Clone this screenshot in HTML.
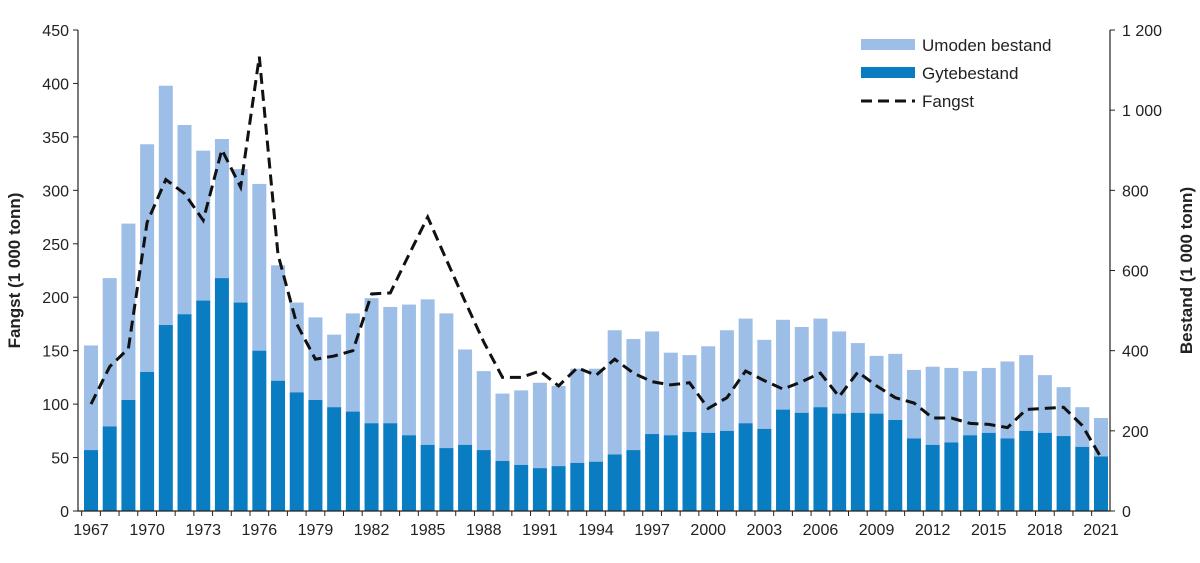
<!DOCTYPE html>
<html><head><meta charset="utf-8"><style>
html,body{margin:0;padding:0;background:#fff;}
svg text{font-family:"Liberation Sans",sans-serif;fill:#222;}
</style></head><body>
<svg id="chart" width="1200" height="558" viewBox="0 0 1200 558" xmlns="http://www.w3.org/2000/svg"></svg>
<script>
const years = [];
for (let y = 1967; y <= 2021; y++) years.push(y);
const gytebestand = [152,211,277,347,464,491,525,581,520,400,325,296,277,259,248,219,219,189,165,157,165,152,125,115,107,112,120,123,141,152,192,189,197,195,200,219,205,253,245,259,243,245,243,227,181,165,171,189,195,181,200,195,187,160,136];
const umoden = [261,370,440,568,597,472,374,347,333,416,288,224,206,181,245,312,290,326,363,336,238,197,168,186,213,200,235,232,310,277,256,206,192,216,251,261,222,224,214,221,205,174,144,165,171,195,186,160,162,192,189,144,122,99,96];
const fangst = [100,135,152,270,310,297,272,338,303,425,240,175,142,145,150,203,204,240,275,235,196,158,125,125,131,117,134,127,142,129,121,118,120,96,106,131,122,114,121,129,107,130,117,106,101,87,87,82,81,78,95,96,97,80,50];
const leftTicks = [0,50,100,150,200,250,300,350,400,450];
const rightTicks = [0,200,400,600,800,1000,1200];
const rightTickLabels = ["0","200","400","600","800","1 000","1 200"];

const svg = document.getElementById('chart');
const NS = 'http://www.w3.org/2000/svg';
const X0 = 78, X1 = 1110, YT = 30, YB = 511;
const step = (1101 - 91) / (years.length - 1);
const xs = i => 91 + i * step;
const yl = v => YB - v / 450 * (YB - YT);
const yr = v => YB - v / 1200 * (YB - YT);
function mk(tag, attrs, parent) {
  const e = document.createElementNS(NS, tag);
  for (const k in attrs) e.setAttribute(k, attrs[k]);
  (parent || svg).appendChild(e);
  return e;
}
// bars
const bw = 14;
years.forEach((yr_, i) => {
  const g = gytebestand[i], u = umoden[i];
  const r1 = mk('rect', {x: xs(i) - bw/2, y: yr(g + u), width: bw, height: yr(g) - yr(g + u), fill: '#9dbfe7'});
  
  
  const r2 = mk('rect', {x: xs(i) - bw/2, y: yr(g), width: bw, height: YB - yr(g), fill: '#0a7dc2'});
  
  
});
// axes
const ax = mk('path', {d: `M${X0} ${YT} V${YB} H${X1} V${YT}`, stroke: '#222', 'stroke-width': 1.2, fill: 'none'});


leftTicks.forEach(v => {
  mk('line', {x1: X0 - 5, x2: X0, y1: yl(v), y2: yl(v), stroke: '#222'});
  const t = mk('text', {x: X0 - 9, y: yl(v) + 6, 'text-anchor': 'end', 'font-size': 16});
  t.textContent = v;
  
  
});
rightTicks.forEach((v, i) => {
  mk('line', {x1: X1, x2: X1 + 5, y1: yr(v), y2: yr(v), stroke: '#222'});
  const t = mk('text', {x: X1 + 12, y: yr(v) + 6, 'text-anchor': 'start', 'font-size': 16});
  t.textContent = rightTickLabels[i];
  
  
});
years.forEach((y, i) => {
  mk('line', {x1: xs(i) - step/2, x2: xs(i) - step/2, y1: YB, y2: YB + 5, stroke: '#222'});
  if ((y - 1967) % 3 === 0) {
    const t = mk('text', {x: xs(i), y: YB + 24, 'text-anchor': 'middle', 'font-size': 16});
    t.textContent = y;
    
    
  }
});
// line
const d = fangst.map((v, i) => (i ? 'L' : 'M') + xs(i).toFixed(1) + ' ' + yl(v).toFixed(1)).join(' ');
const ln = mk('path', {d, stroke: '#111', 'stroke-width': 3, 'stroke-dasharray': '11 6', fill: 'none'});


// axis titles
const lt = mk('text', {x: 0, y: 0, transform: `translate(20 ${(YT+YB)/2}) rotate(-90)`, 'text-anchor': 'middle', 'font-size': 17, 'font-weight': 'bold'});
lt.textContent = 'Fangst (1 000 tonn)';


const rt = mk('text', {x: 0, y: 0, transform: `translate(1192 ${(YT+YB)/2}) rotate(-90)`, 'text-anchor': 'middle', 'font-size': 17, 'font-weight': 'bold'});
rt.textContent = 'Bestand (1 000 tonn)';


// legend
const legend = mk('g', {});


[['Umoden bestand', '#9dbfe7', 'rect'], ['Gytebestand', '#0a7dc2', 'rect'], ['Fangst', '#111', 'dash']].forEach((e, i) => {
  const y = 45 + i * 28;
  const g = mk('g', {}, legend);
  
  
  if (e[2] === 'rect') mk('rect', {x: 861, y: y - 6, width: 54, height: 11, fill: e[1]}, g);
  else mk('line', {x1: 861, x2: 915, y1: y, y2: y, stroke: e[1], 'stroke-width': 3, 'stroke-dasharray': '11 6'}, g);
  const t = mk('text', {x: 922, y: y + 6, 'font-size': 17}, g);
  t.textContent = e[0];
});
</script>
</body></html>
